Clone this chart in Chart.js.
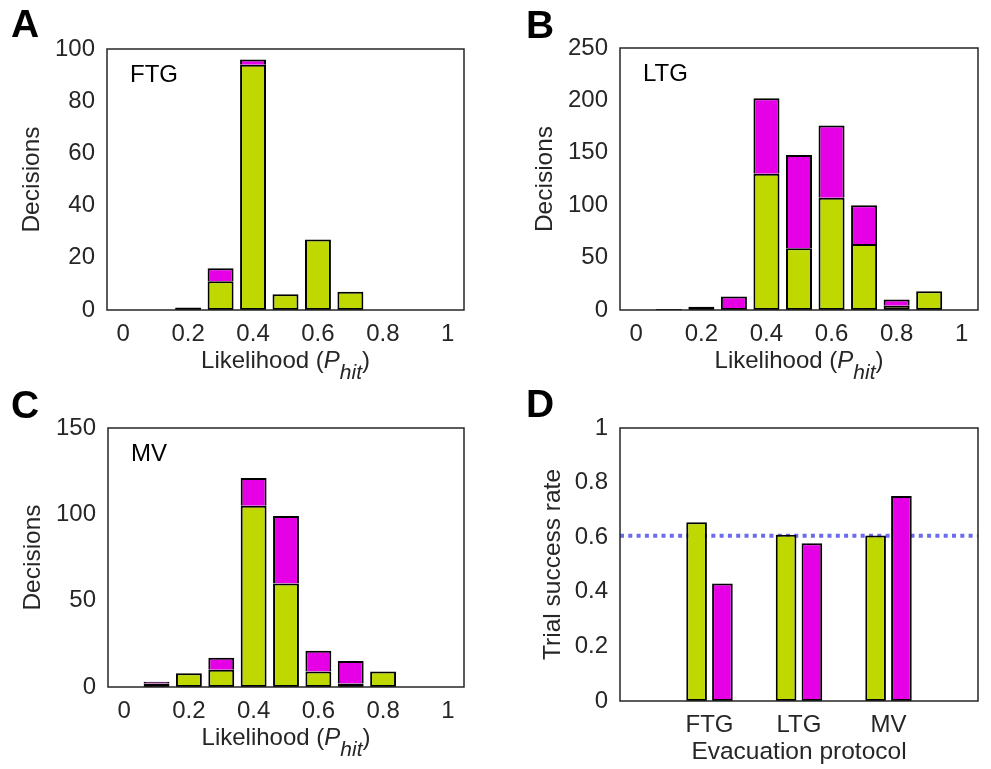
<!DOCTYPE html>
<html>
<head>
<meta charset="utf-8">
<script src="https://cdn.jsdelivr.net/npm/chart.js@4.4.1/dist/chart.umd.min.js"></script>
<style>
  body { margin: 0; background: #fff; }
  #figure { position: relative; width: 991px; height: 769px; }
  #figure canvas { position: absolute; left: 0; top: 0; }
</style>
</head>
<body>
<div id="figure">
  <canvas id="chartA" width="991" height="769"></canvas>
  <canvas id="chartB" width="991" height="769"></canvas>
  <canvas id="chartC" width="991" height="769"></canvas>
  <canvas id="chartD" width="991" height="769"></canvas>
</div>
<script>
// histogram bins and ticks (likelihood of hit)
const likelihoodBins = [0, 0.1, 0.2, 0.3, 0.4, 0.5, 0.6, 0.7, 0.8, 0.9, 1];
const likelihoodTicks = [0, 0.2, 0.4, 0.6, 0.8, 1];

// decision counts per bin, two groups stacked
const ftgGreen   = [0, 0, 1, 11, 94, 6, 27, 7, 0, 0, 0];
const ftgMagenta = [0, 0, 0, 5, 2, 0, 0, 0, 0, 0, 0];
const ltgGreen   = [0, 1, 3, 2, 130, 59, 107, 63, 4, 18, 0];
const ltgMagenta = [0, 0, 0, 11, 72, 89, 69, 37, 6, 0, 0];
const mvGreen    = [0, 2, 8, 10, 105, 60, 9, 2, 9, 0, 0];
const mvMagenta  = [0, 1, 0, 7, 16, 39, 12, 13, 0, 0, 0];

const ftgTicks = [0, 20, 40, 60, 80, 100];
const ltgTicks = [0, 50, 100, 150, 200, 250];
const mvTicks  = [0, 50, 100, 150];

// trial success rate per evacuation protocol
const protocols = ['FTG', 'LTG', 'MV'];
const successGreen   = [0.655, 0.609, 0.606];
const successMagenta = [0.43, 0.578, 0.751];
const chanceLevel = 0.605;
const successTicks = [0, 0.2, 0.4, 0.6, 0.8, 1];

const GREEN = '#bfd900';
const MAGENTA = '#e600e6';
const DOTTED = '#6b6bf0';
const INK = '#262626';
const FONT = '"Liberation Sans", Arial, Helvetica, sans-serif';
const TICK_SIZE = 24;
const TITLE_SIZE = 24.5;
const W = 991, H = 769;
const Y_W = 100, X_H = 90;

Chart.defaults.font.family = FONT;
Chart.defaults.color = INK;

function fmt(v) {
  return String(Math.round(v * 10) / 10);
}

function drawLikelihoodTitle(ctx, cx, baseline) {
  const parts = [
    { text: 'Likelihood (', font: '24px ' + FONT, dy: 0 },
    { text: 'P', font: 'italic 24px ' + FONT, dy: 0 },
    { text: 'hit', font: 'italic 21px ' + FONT, dy: 11 },
    { text: ')', font: '24px ' + FONT, dy: 0 }
  ];
  let total = 0;
  parts.forEach(p => { ctx.font = p.font; p.w = ctx.measureText(p.text).width; total += p.w; });
  let x = cx - total / 2;
  ctx.textAlign = 'left';
  ctx.textBaseline = 'alphabetic';
  parts.forEach(p => {
    ctx.font = p.font;
    ctx.fillText(p.text, x, baseline + p.dy);
    x += p.w;
  });
}

// box around the axes, panel letter, tag and the custom x title
const panelDecor = {
  id: 'panelDecor',
  afterDatasetsDraw(chart, args, opts) {
    const { ctx, chartArea: a } = chart;
    ctx.save();
    ctx.strokeStyle = INK;
    ctx.lineWidth = 1.5;
    ctx.strokeRect(a.left, a.top, a.right - a.left, a.bottom - a.top);

    ctx.fillStyle = '#000';
    ctx.textAlign = 'left';
    ctx.textBaseline = 'alphabetic';
    ctx.font = 'bold 39px ' + FONT;
    ctx.fillText(opts.letter, opts.letterX, opts.letterY);

    if (opts.tag) {
      ctx.font = '24px ' + FONT;
      ctx.fillText(opts.tag, a.left + 23, a.top + 33);
    }
    if (opts.likelihood) {
      ctx.fillStyle = INK;
      drawLikelihoodTitle(ctx, (a.left + a.right) / 2, a.bottom + 58);
    }
    ctx.restore();
  }
};

function panelPadding(frame) {
  return {
    padding: {
      left: frame.left - Y_W,
      top: frame.top,
      right: W - frame.right,
      bottom: H - frame.bottom - X_H
    }
  };
}

function yAxis(ticks, title, frame, titleX, stacked) {
  return {
    min: 0,
    max: ticks[ticks.length - 1],
    stacked: stacked,
    afterFit: s => { s.width = Y_W; },
    afterBuildTicks: s => { s.ticks = ticks.map(v => ({ value: v })); },
    grid: { display: false, drawTicks: false },
    border: { display: false },
    ticks: { padding: 12, font: { size: TICK_SIZE }, callback: v => fmt(v) },
    title: {
      display: true,
      text: title,
      font: { size: TITLE_SIZE },
      padding: { top: titleX - (frame.left - Y_W) - TITLE_SIZE * 0.6, bottom: 0 }
    }
  };
}

function drawHistogram(id, green, magenta, ticks, tag, letter, frame, titleX) {
  const toPoints = vals => likelihoodBins.map((b, i) => ({ x: b, y: vals[i] }));
  new Chart(document.getElementById(id), {
    type: 'bar',
    data: {
      datasets: [
        {
          data: toPoints(green),
          stack: 'counts',
          backgroundColor: GREEN,
          borderColor: '#000',
          borderWidth: 2,
          borderSkipped: false,
          categoryPercentage: 1,
          barPercentage: 0.8
        },
        {
          data: toPoints(magenta),
          stack: 'counts',
          backgroundColor: MAGENTA,
          borderColor: '#000',
          borderWidth: 2,
          borderSkipped: 'bottom',
          categoryPercentage: 1,
          barPercentage: 0.8
        }
      ]
    },
    options: {
      responsive: false,
      animation: false,
      layout: panelPadding(frame),
      plugins: {
        legend: { display: false },
        tooltip: { enabled: false },
        panelDecor: { letter: letter.text, letterX: letter.x, letterY: letter.y, tag: tag, likelihood: true }
      },
      scales: {
        x: {
          type: 'linear',
          offset: false,
          min: -0.05,
          max: 1.05,
          afterFit: s => { s.height = X_H; },
          afterBuildTicks: s => { s.ticks = likelihoodTicks.map(v => ({ value: v })); },
          grid: { display: false, drawTicks: false },
          border: { display: false },
          ticks: { padding: 10, font: { size: TICK_SIZE }, maxRotation: 0, callback: v => fmt(v) }
        },
        y: yAxis(ticks, 'Decisions', frame, titleX, true)
      }
    },
    plugins: [panelDecor]
  });
}

drawHistogram('chartA', ftgGreen, ftgMagenta, ftgTicks, 'FTG',
  { text: 'A', x: 11, y: 37 }, { left: 107, top: 49, right: 464, bottom: 310 }, 32);
drawHistogram('chartB', ltgGreen, ltgMagenta, ltgTicks, 'LTG',
  { text: 'B', x: 526, y: 38 }, { left: 620, top: 48, right: 978, bottom: 310 }, 545);
drawHistogram('chartC', mvGreen, mvMagenta, mvTicks, 'MV',
  { text: 'C', x: 11, y: 418 }, { left: 108, top: 428, right: 464, bottom: 687 }, 33);

// panel D: grouped success rates with the dotted reference level
const frameD = { left: 620, top: 428, right: 978, bottom: 701 };
new Chart(document.getElementById('chartD'), {
  type: 'bar',
  data: {
    datasets: [
      {
        data: protocols.map((p, i) => ({ x: i + 1, y: successGreen[i] })),
        backgroundColor: GREEN,
        borderColor: '#000',
        borderWidth: 2,
        borderSkipped: false,
        categoryPercentage: 0.577,
        barPercentage: 0.8,
        order: 1
      },
      {
        data: protocols.map((p, i) => ({ x: i + 1, y: successMagenta[i] })),
        backgroundColor: MAGENTA,
        borderColor: '#000',
        borderWidth: 2,
        borderSkipped: false,
        categoryPercentage: 0.577,
        barPercentage: 0.8,
        order: 1
      },
      {
        type: 'line',
        data: [{ x: 0, y: chanceLevel }, { x: 4, y: chanceLevel }],
        borderColor: DOTTED,
        borderWidth: 4,
        borderDash: [4, 4.3],
        pointRadius: 0,
        order: 5
      }
    ]
  },
  options: {
    responsive: false,
    animation: false,
    layout: panelPadding(frameD),
    plugins: {
      legend: { display: false },
      tooltip: { enabled: false },
      panelDecor: { letter: 'D', letterX: 526, letterY: 417, tag: null, likelihood: false }
    },
    scales: {
      x: {
        type: 'linear',
        offset: false,
        min: 0,
        max: 4,
        afterFit: s => { s.height = X_H; },
        afterBuildTicks: s => { s.ticks = protocols.map((p, i) => ({ value: i + 1 })); },
        grid: { display: false, drawTicks: false },
        border: { display: false },
        ticks: { padding: 10, font: { size: TICK_SIZE }, maxRotation: 0, callback: v => protocols[v - 1] },
        title: {
          display: true,
          text: 'Evacuation protocol',
          font: { size: TITLE_SIZE },
          padding: { top: 0, bottom: frameD.bottom + X_H - TITLE_SIZE * 0.6 - 752 }
        }
      },
      y: yAxis(successTicks, 'Trial success rate', frameD, 553, false)
    }
  },
  plugins: [panelDecor]
});
</script>
</body>
</html>
